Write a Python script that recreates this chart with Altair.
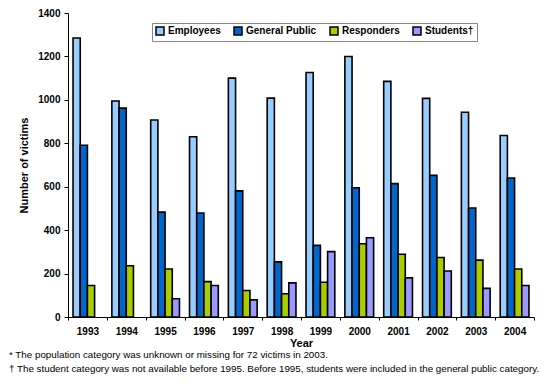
import altair as alt
import pandas as pd

years = ["1993", "1994", "1995", "1996", "1997", "1998", "1999", "2000", "2001", "2002", "2003", "2004"]
series = ["Employees", "General Public", "Responders", "Students†"]
employees = [1285, 995, 907, 830, 1100, 1008, 1126, 1200, 1085, 1007, 943, 836]
general_public = [791, 962, 483, 479, 581, 254, 330, 595, 614, 652, 502, 640]
responders = [145, 236, 221, 163, 122, 107, 160, 337, 289, 274, 262, 221]
students = [None, None, 84, 145, 79, 157, 301, 365, 180, 212, 132, 145]
colors = ["#99CCFF", "#0066CC", "#AACC00", "#9999FF"]
footnotes = [
    "* The population category was unknown or missing for 72 victims in 2003.",
    "† The student category was not available before 1995. Before 1995, students were included in the general public category.",
]

rows = []
for name, vals in zip(series, [employees, general_public, responders, students]):
    for y, v in zip(years, vals):
        if v is not None:
            rows.append({"Year": y, "Category": name, "Victims": v})
df = pd.DataFrame(rows)

FONT = "Liberation Sans"

chart = alt.Chart(df).mark_bar(stroke="black", strokeWidth=1.6).encode(
    x=alt.X("Year:N", sort=years,
            scale=alt.Scale(paddingInner=0, paddingOuter=0),
            axis=alt.Axis(title="Year", labelAngle=0, tickBand="extent",
                          labelFont=FONT, labelFontWeight="bold", labelFontSize=10,
                          labelColor="black", labelPadding=6,
                          titleFont=FONT, titleFontWeight="bold", titleFontSize=11,
                          titleColor="black", titlePadding=1,
                          domainColor="black", tickColor="black", tickSize=3)),
    xOffset=alt.XOffset("Category:N", sort=series,
                        scale=alt.Scale(paddingInner=0, paddingOuter=0.7)),
    y=alt.Y("Victims:Q",
            scale=alt.Scale(domain=[0, 1400], nice=False),
            axis=alt.Axis(title="Number of victims", values=list(range(0, 1401, 200)),
                          format="d", grid=False, labelFont=FONT, labelFontWeight="bold",
                          labelFontSize=10, labelColor="black", labelPadding=4,
                          titleFont=FONT, titleFontWeight="bold", titleFontSize=11,
                          titleColor="black", titlePadding=8,
                          domainColor="black", tickColor="black", tickSize=4)),
    color=alt.Color("Category:N", sort=series,
                    scale=alt.Scale(domain=series, range=colors),
                    legend=alt.Legend(title=None, orient="none", direction="horizontal",
                                      legendX=84, legendY=10,
                                      symbolType="square", symbolSize=64,
                                      symbolStrokeColor="black", symbolStrokeWidth=1.5,
                                      labelFont=FONT, labelFontWeight="bold",
                                      labelFontSize=10, labelColor="black",
                                      columnPadding=10, labelOffset=3,
                                      strokeColor="#888888", padding=3,
                                      fillColor="white")),
).properties(
    width=466,
    height=304,
    title=alt.TitleParams(
        text=footnotes,
        orient="bottom", anchor="start", frame="group", dx=-59, offset=2,
        font=FONT, fontSize=9.8, fontWeight="normal", color="black", lineHeight=14),
    autosize=alt.AutoSizeParams(type="none"),
    padding={"left": 60, "top": 5, "right": 8, "bottom": 59},
).configure_view(stroke=None)

chart.save("out.html", embed_options={"renderer": "svg", "actions": False})
